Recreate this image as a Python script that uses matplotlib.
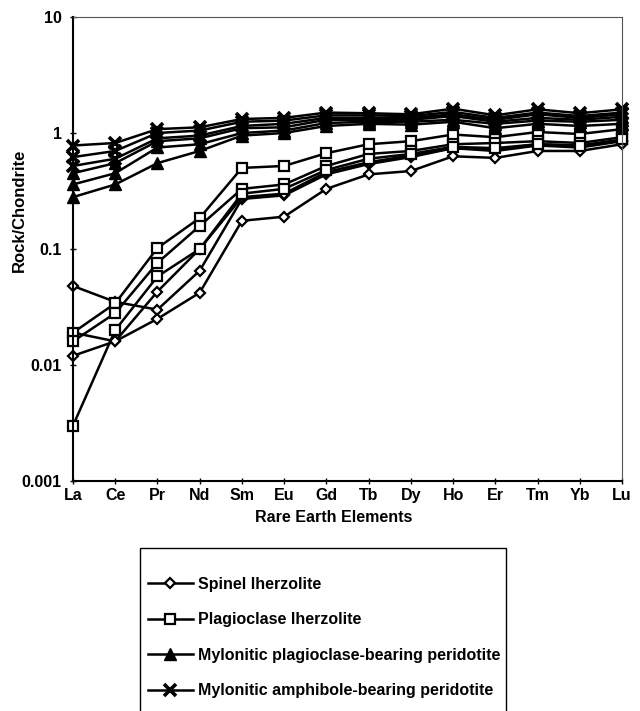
"""
Chondrite-normalised REE patterns for the peridotite groups.

Writes out.png in the working directory.
"""

import matplotlib
import matplotlib.pyplot as plt
from matplotlib.lines import Line2D
from matplotlib.patches import Rectangle

matplotlib.use('Agg')

elements = ['La', 'Ce', 'Pr', 'Nd', 'Sm', 'Eu', 'Gd', 'Tb', 'Dy', 'Ho', 'Er', 'Tm', 'Yb', 'Lu']

# Spinel lherzolite samples
spinel_1 = [0.048, 0.035, 0.030, 0.065, 0.27, 0.29, 0.44, 0.54, 0.62, 0.74, 0.70, 0.78, 0.75, 0.85]
spinel_2 = [0.012, 0.016, 0.043, 0.10, 0.28, 0.30, 0.46, 0.56, 0.64, 0.74, 0.72, 0.80, 0.78, 0.86]
spinel_3 = [0.019, 0.016, 0.025, 0.042, 0.175, 0.19, 0.33, 0.44, 0.47, 0.63, 0.61, 0.70, 0.70, 0.80]

# Plagioclase lherzolite samples
plag_1 = [0.019, 0.034, 0.102, 0.185, 0.50, 0.52, 0.67, 0.80, 0.85, 0.97, 0.92, 1.02, 0.98, 1.08]
plag_2 = [0.016, 0.028, 0.076, 0.158, 0.33, 0.36, 0.52, 0.66, 0.70, 0.80, 0.82, 0.85, 0.82, 0.92]
plag_3 = [0.003, 0.020, 0.058, 0.10, 0.30, 0.33, 0.48, 0.60, 0.66, 0.76, 0.74, 0.80, 0.78, 0.88]

# Mylonitic plagioclase-bearing peridotite samples
myl_plag_1 = [0.45, 0.55, 0.85, 0.90, 1.10, 1.12, 1.30, 1.30, 1.30, 1.40, 1.25, 1.35, 1.30, 1.38]
myl_plag_2 = [0.36, 0.45, 0.75, 0.80, 1.00, 1.05, 1.22, 1.25, 1.25, 1.30, 1.20, 1.28, 1.25, 1.30]
myl_plag_3 = [0.28, 0.36, 0.55, 0.70, 0.95, 1.00, 1.15, 1.20, 1.18, 1.25, 1.10, 1.20, 1.15, 1.20]

# Mylonitic amphibole-bearing peridotite samples
myl_amph_1 = [0.78, 0.82, 1.08, 1.12, 1.32, 1.35, 1.50, 1.48, 1.45, 1.62, 1.42, 1.60, 1.48, 1.60]
myl_amph_2 = [0.62, 0.70, 1.00, 1.05, 1.25, 1.28, 1.42, 1.42, 1.40, 1.52, 1.35, 1.50, 1.40, 1.50]
myl_amph_3 = [0.52, 0.60, 0.90, 0.95, 1.15, 1.20, 1.35, 1.35, 1.35, 1.45, 1.30, 1.45, 1.35, 1.45]

group_names = ['Spinel lherzolite', 'Plagioclase lherzolite',
               'Mylonitic plagioclase-bearing peridotite', 'Mylonitic amphibole-bearing peridotite']
group_samples = [[spinel_1, spinel_2, spinel_3],
                 [plag_1, plag_2, plag_3],
                 [myl_plag_1, myl_plag_2, myl_plag_3],
                 [myl_amph_1, myl_amph_2, myl_amph_3]]

y_ticks = [0.001, 0.01, 0.1, 1, 10]
y_tick_labels = ['0.001', '0.01', '0.1', '1', '10']

W, H = 640, 711


def marker_style(name):
    """Return the marker keywords used for one rock group."""
    if name == 'Spinel lherzolite':
        return dict(marker='D', markersize=5.5, markerfacecolor='white', markeredgewidth=1.6)
    if name == 'Plagioclase lherzolite':
        return dict(marker='s', markersize=7, markerfacecolor='white', markeredgewidth=1.6)
    if name == 'Mylonitic plagioclase-bearing peridotite':
        return dict(marker='^', markersize=8, markerfacecolor='black', markeredgewidth=1.0)
    return dict(marker='x', markersize=9, markeredgewidth=2.6)


def plot_ree(plot_filename):
    plt.rcParams['font.family'] = ['Liberation Sans', 'DejaVu Sans']
    plt.rcParams['font.weight'] = 'bold'

    fig = plt.figure(figsize=(W / 100, H / 100), dpi=100)
    ax = fig.add_axes([73 / W, 1 - 481 / H, 549 / W, 464 / H])

    x = list(range(len(elements)))
    for name, samples in zip(group_names, group_samples):
        style = marker_style(name)
        for values in samples:
            ax.plot(x, values, color='black', linewidth=1.8, markeredgecolor='black',
                    clip_on=False, **style)

    ax.set_yscale('log')
    ax.set_ylim(0.001, 10)
    ax.set_xlim(0, len(elements) - 1)
    ax.set_yticks(y_ticks)
    ax.set_yticklabels(y_tick_labels)
    ax.minorticks_off()
    ax.set_xticks(x)
    ax.set_xticklabels(elements)
    ax.tick_params(axis='both', labelsize=11.5, length=4, width=1, direction='inout')
    ax.tick_params(axis='x', pad=3)
    ax.tick_params(axis='y', pad=6)

    for side in ['left', 'bottom']:
        ax.spines[side].set_linewidth(1.5)
    for side in ['top', 'right']:
        ax.spines[side].set_linewidth(0.8)
        ax.spines[side].set_color('#555555')

    fig.text(334 / W, 1 - 517 / H, 'Rare Earth Elements', fontsize=11.5, fontweight='bold',
             ha='center', va='center')
    fig.text(19 / W, 1 - 210 / H, 'Rock/Chondrite', rotation=90, fontsize=12,
             fontweight='bold', ha='center', va='center')

    # legend box runs off the bottom of the figure, as in the original
    box = Rectangle((140 / W, 1 - 716 / H), 366 / W, 168 / H, transform=fig.transFigure,
                    facecolor='white', edgecolor='black', linewidth=1.0)
    fig.patches.append(box)

    handles = []
    for name in group_names:
        style = marker_style(name)
        handles.append(Line2D([], [], color='black', linewidth=1.8, markeredgecolor='black', **style))
    leg = fig.legend(handles, group_names, loc='upper left', bbox_to_anchor=(148 / W, 1 - 577 / H),
                     fontsize=11.5, frameon=False, handlelength=2.8, handletextpad=0.3,
                     labelspacing=1.28, borderpad=0, borderaxespad=0)
    for text in leg.get_texts():
        text.set_fontweight('bold')

    fig.savefig(plot_filename, dpi=100)
    plt.close(fig)


def main():
    plot_ree('out.png')


if __name__ == '__main__':
    main()
